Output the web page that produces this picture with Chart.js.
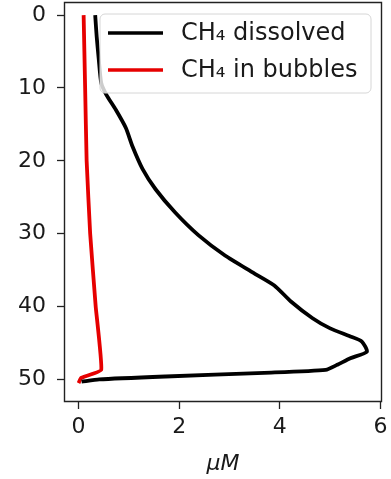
<!DOCTYPE html>
<html>
<head>
<meta charset="utf-8">
<script src="https://cdn.jsdelivr.net/npm/chart.js@4"></script>
<style>
  html,body{margin:0;padding:0;background:#fff;overflow:hidden;}
  #wrap{width:391px;height:479px;position:relative;}
</style>
</head>
<body>
<div id="wrap"><canvas id="c" width="391" height="479"></canvas></div>
<script>
// ---- data ----
const seriesLabels = ['CH₄ dissolved', 'CH₄ in bubbles'];
const dissolvedDepth = [0, 3, 6, 9.3, 10.9, 13, 15.5, 18, 21.1, 23.9, 27.1, 30.2, 33.0, 35.2, 37.1, 39.3, 41.6, 43.0, 44.1, 44.8, 46.2, 47.1, 48.0, 48.7, 49.1, 49.6, 50.0, 50.3];
const dissolvedValue = [0.33, 0.36, 0.40, 0.45, 0.55, 0.74, 0.94, 1.07, 1.27, 1.53, 1.92, 2.38, 2.91, 3.43, 3.89, 4.22, 4.65, 5.0, 5.4, 5.63, 5.73, 5.4, 5.14, 4.91, 3.69, 1.73, 0.41, 0.06];
const bubbleDepth = [0, 10, 20, 30, 40, 48.7, 49.8, 50.5];
const bubbleValue = [0.10, 0.13, 0.16, 0.23, 0.34, 0.45, 0.05, 0.0];
const xTicks = [0, 2, 4, 6];
const yTicks = [0, 10, 20, 30, 40, 50];
const xTitle = 'μM';

const FONT = 'DejaVu Sans';

const framePlugin = {
  id: 'frame',
  afterDraw(chart) {
    const {ctx} = chart;
    const a = chart.chartArea;
    ctx.save();
    // legend
    const lx = 100, ly = 14, lw = 271, lh = 79, r = 5;
    ctx.beginPath();
    ctx.moveTo(lx + r, ly);
    ctx.arcTo(lx + lw, ly, lx + lw, ly + lh, r);
    ctx.arcTo(lx + lw, ly + lh, lx, ly + lh, r);
    ctx.arcTo(lx, ly + lh, lx, ly, r);
    ctx.arcTo(lx, ly, lx + lw, ly, r);
    ctx.closePath();
    ctx.fillStyle = 'rgba(255,255,255,0.8)';
    ctx.fill();
    ctx.strokeStyle = '#d6d6d6';
    ctx.lineWidth = 1;
    ctx.stroke();
    chart.data.datasets.forEach((ds, i) => {
      const yy = 33 + i * 37;
      ctx.beginPath();
      ctx.moveTo(108, yy);
      ctx.lineTo(163, yy);
      ctx.strokeStyle = ds.borderColor;
      ctx.lineWidth = 3.5;
      ctx.stroke();
      ctx.fillStyle = '#1a1a1a';
      ctx.font = '24px "' + FONT + '"';
      ctx.textBaseline = 'middle';
      ctx.textAlign = 'left';
      ctx.fillText(ds.label, 181, yy + 1);
    });
    // frame (all four spines)
    const L = Math.round(a.left) + 0.5, R = Math.round(a.right) - 0.5;
    const T = Math.round(a.top) + 0.5, B = Math.round(a.bottom) - 0.5;
    ctx.strokeStyle = '#222';
    ctx.lineWidth = 1.4;
    ctx.beginPath();
    ctx.moveTo(L, T); ctx.lineTo(R, T); ctx.lineTo(R, B); ctx.lineTo(L, B); ctx.closePath();
    ctx.stroke();
    ctx.restore();
  }
};

const toPts = (xs, ys) => xs.map((v, i) => ({x: v, y: ys[i]}));

new Chart(document.getElementById('c'), {
  type: 'scatter',
  data: {
    datasets: [
      {label: seriesLabels[0], data: toPts(dissolvedValue, dissolvedDepth), showLine: true,
       borderColor: '#000000', borderWidth: 3.8, pointRadius: 0, tension: 0.2, borderJoinStyle: 'round'},
      {label: seriesLabels[1], data: toPts(bubbleValue, bubbleDepth), showLine: true,
       borderColor: '#e60000', borderWidth: 3.8, pointRadius: 0, tension: 0.1, borderJoinStyle: 'round'}
    ]
  },
  options: {
    responsive: false,
    animation: false,
    layout: {padding: {left: 0, right: 9, top: 2, bottom: 0}},
    plugins: {legend: {display: false}, tooltip: {enabled: false}},
    scales: {
      x: {
        type: 'linear', min: -0.29, max: 6.03,
        afterBuildTicks: s => { s.ticks = xTicks.map(v => ({value: v})); },
        afterFit: s => { s.height = 77; s.paddingLeft = 0; s.paddingRight = 0; },
        grid: {display: true, drawOnChartArea: false, drawTicks: true, tickLength: 7, tickColor: '#222', tickWidth: 1.3},
        border: {display: false},
        ticks: {color: '#1a1a1a', font: {family: FONT, size: 22}, padding: 5, maxRotation: 0},
        title: {display: true, text: xTitle, color: '#1a1a1a', font: {family: FONT, size: 22, style: 'italic'}, padding: {top: 2, bottom: 2}}
      },
      y: {
        type: 'linear', reverse: true, min: -1.8, max: 53.1,
        afterBuildTicks: s => { s.ticks = yTicks.map(v => ({value: v})); },
        afterFit: s => { s.width = 64; s.paddingTop = 0; s.paddingBottom = 0; },
        grid: {display: true, drawOnChartArea: false, drawTicks: true, tickLength: 7, tickColor: '#222', tickWidth: 1.3},
        border: {display: false},
        ticks: {color: '#1a1a1a', font: {family: FONT, size: 22}, padding: 11}
      }
    }
  },
  plugins: [framePlugin]
});
</script>
</body>
</html>
